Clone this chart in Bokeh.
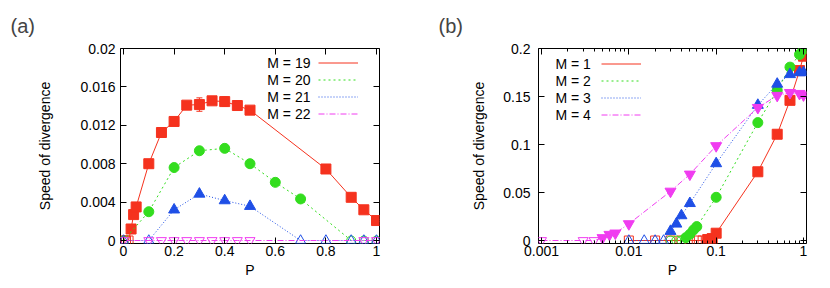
import numpy as np
from bokeh.plotting import figure
from bokeh.models import (ColumnDataSource, FixedTicker, LinearAxis, LogAxis, Legend,
                          LegendItem, Label, Whisker, TeeHead, Range1d)
from bokeh.layouts import row
from bokeh.embed import file_html
from bokeh.resources import INLINE

# ---------------- data: panel (a) ----------------
a_labels = ["M = 19", "M = 20", "M = 21", "M = 22"]
a_p19 = [0, 0.01, 0.02, 0.03, 0.04, 0.05, 0.1, 0.15, 0.2, 0.25, 0.3, 0.35, 0.4, 0.45, 0.5, 0.8, 0.9, 0.95, 1.0]
a_v19 = [0, 0, 0, 0.0012, 0.0027, 0.0035, 0.0080, 0.01125, 0.0124, 0.0141, 0.01416, 0.01455, 0.01447,
         0.01406, 0.01358, 0.00745, 0.0045, 0.0032, 0.00208]
a_e19 = [0, 0, 0, 0.0001, 0.0001, 0.0001, 0.0001, 0.0001, 0.0001, 0.0001, 0.0007, 0.0002, 0.0005,
         0.0002, 0.0002, 0.0004, 0.0001, 0.0001, 0.0001]
a_p20 = [0, 0.1, 0.2, 0.3, 0.4, 0.5, 0.6, 0.7, 0.9, 0.95, 1.0]
a_v20 = [0, 0.0030, 0.0076, 0.00935, 0.0096, 0.0080, 0.00606, 0.00433, 0, 0, 0]
a_p21 = [0, 0.1, 0.2, 0.3, 0.4, 0.5, 0.7, 0.8, 0.9, 0.95, 1.0]
a_v21 = [0, 0, 0.0032, 0.00485, 0.00416, 0.00357, 0, 0, 0, 0, 0]
a_p22 = [0, 0.1, 0.15, 0.2, 0.25, 0.3, 0.35, 0.4, 0.45, 0.5, 0.95, 1.0]
a_v22 = [0, 0, 0, 0, 0, 0, 0, 0, 0, 0, 0, 0]
a_xticks = [0, 0.2, 0.4, 0.6, 0.8, 1.0]
a_xlabels = ["0", "0.2", "0.4", "0.6", "0.8", "1"]
a_yticks = [0, 0.004, 0.008, 0.012, 0.016, 0.02]
a_ylabels = ["0", "0.004", "0.008", "0.012", "0.016", "0.02"]

# ---------------- data: panel (b) ----------------
b_labels = ["M = 1", "M = 2", "M = 3", "M = 4"]
b_p1 = [0.01, 0.02, 0.03, 0.04, 0.05, 0.06, 0.07, 0.08, 0.09, 0.1, 0.3, 0.5, 0.7, 0.9, 1.0]
b_v1 = [0, 0, 0, 0, 0, 0, 0, 0.001, 0.002, 0.0076, 0.0716, 0.1107, 0.146, 0.177, 0.192]
b_p2 = [0.03, 0.035, 0.04, 0.045, 0.05, 0.055, 0.06, 0.1, 0.3, 0.5, 0.7, 0.9, 1.0]
b_v2 = [0, 0, 0, 0.003, 0.0065, 0.011, 0.0145, 0.045, 0.1228, 0.1564, 0.1806, 0.1937, 0.199]
b_p3 = [0.01, 0.015, 0.02, 0.025, 0.03, 0.035, 0.04, 0.05, 0.1, 0.3, 0.5, 0.7, 0.9, 1.0]
b_v3 = [0, 0, 0, 0, 0.0097, 0.0173, 0.026, 0.0387, 0.0802, 0.141, 0.163, 0.173, 0.175, 0.175]
b_p4 = [0.001, 0.003, 0.004, 0.005, 0.006, 0.007, 0.01, 0.03, 0.05, 0.1, 0.3, 0.5, 0.7, 0.9, 1.0]
b_v4 = [0, 0, 0, 0.0028, 0.0062, 0.0076, 0.0173, 0.0512, 0.069, 0.0986, 0.1384, 0.151, 0.154, 0.153, 0.1515]
b_xticks = [0.001, 0.01, 0.1, 1.0]
b_xlabels = ["0.001", "0.01", "0.1", "1"]
b_yticks = [0, 0.05, 0.1, 0.15, 0.2]
b_ylabels = ["0", "0.05", "0.1", "0.15", "0.2"]

# ---------------- styles ----------------
FONT = "Liberation Sans"
FS = "14px"
COLORS = ["#f5321e", "#33dd1e", "#1f4fe6", "#f03cf0"]
DASHES = ["solid", "2 3", "1 2", "6 2 1 2"]
MARKERS = ["square", "circle", "triangle", "inverted_triangle"]
MSIZE = [10, 10, 11, 11]


def style_axes(p, xticker, xlabels, xticks, yticks, ylabels, log_x, y_label_standoff, tick_standoff):
    p.grid.visible = False
    p.outline_line_color = "black"
    p.outline_line_width = 1
    p.background_fill_color = "white"
    p.border_fill_color = "white"
    xa = p.xaxis[0]
    ya = p.yaxis[0]
    xa.ticker = xticker
    ya.ticker = FixedTicker(ticks=yticks, minor_ticks=[])
    xa.major_label_overrides = {t: l for t, l in zip(xticks, xlabels)}
    ya.major_label_overrides = {t: l for t, l in zip(yticks, ylabels)}
    for ax in (xa, ya):
        ax.axis_line_color = None
        ax.major_tick_in = 6
        ax.major_tick_out = 0
        ax.minor_tick_in = 3
        ax.minor_tick_out = 0
        ax.major_tick_line_color = "black"
        ax.minor_tick_line_color = "black"
        ax.major_label_text_font = FONT
        ax.major_label_text_font_size = FS
        ax.major_label_text_color = "black"
        ax.axis_label_text_font = FONT
        ax.axis_label_text_font_size = FS
        ax.axis_label_text_font_style = "normal"
        ax.axis_label_text_color = "black"
    xa.axis_label = "P"
    ya.axis_label = "Speed of divergence"
    xa.major_label_standoff = 2
    xa.axis_label_standoff = 3
    ya.major_label_standoff = tick_standoff
    ya.axis_label_standoff = y_label_standoff
    # mirrored ticks (no labels drawn)
    if log_x:
        top = LogAxis(ticker=xticker)
    else:
        top = LinearAxis(ticker=xticker)
    right = LinearAxis(ticker=FixedTicker(ticks=yticks, minor_ticks=[]))
    top.major_label_overrides = {t: "" for t in xticks}
    right.major_label_overrides = {t: "" for t in yticks}
    for ax in (top, right):
        ax.axis_line_color = None
        ax.major_tick_in = 6
        ax.major_tick_out = 0
        ax.minor_tick_in = 3
        ax.minor_tick_out = 0
        ax.major_tick_line_color = "black"
        ax.minor_tick_line_color = "black"
        ax.major_label_text_color = None
        ax.major_label_standoff = 0
    p.add_layout(top, "above")
    p.add_layout(right, "right")
    p.title.text_font = FONT
    p.title.text_font_size = "20px"
    p.title.text_font_style = "normal"
    p.title.align = "left"
    try:
        p.title.standoff = 24
    except Exception:
        pass


def draw_series(p, ps, vs, color, dash, marker, size):
    ps = np.asarray(ps, dtype=float)
    vs = np.asarray(vs, dtype=float)
    src = ColumnDataSource(dict(x=ps, y=vs))
    line = p.line("x", "y", source=src, line_color=color, line_width=1, line_dash=dash)
    filled = vs > 0
    if filled.any():
        p.scatter(ps[filled], vs[filled], marker=marker, size=size,
                  fill_color=color, line_color=color, line_width=1)
    if (~filled).any():
        p.scatter(ps[~filled], vs[~filled], marker=marker, size=size - 1,
                  fill_color=None, line_color=color, line_width=1)
    return line


def add_key(p, lines, labels, glyph_x, top_y, text_x, text_align):
    legend = Legend(items=[LegendItem(label=" ", renderers=[r]) for r in lines],
                    location=(glyph_x, top_y - 17 * len(lines)), orientation="vertical",
                    glyph_width=40, glyph_height=17, label_height=17, label_width=2,
                    label_standoff=0, spacing=0, padding=0, margin=0,
                    border_line_color=None, background_fill_alpha=0,
                    label_text_color=None)
    p.add_layout(legend)
    for i, lab in enumerate(labels):
        p.add_layout(Label(x=text_x, y=top_y - 8.5 - 17 * i, x_units="screen", y_units="screen",
                           text=lab, text_font=FONT, text_font_size=FS, text_align=text_align,
                           text_baseline="middle", text_color="black"))


# ---------------- panel (a) ----------------
PAD_PX = 3
ax_pad = PAD_PX / 253.0
ay_pad = 0.02 * PAD_PX / 193.0
pa = figure(width=418, height=288, output_backend="svg", toolbar_location=None,
            title="(a)",
            x_range=Range1d(-ax_pad, 1 + ax_pad), y_range=Range1d(-ay_pad, 0.02),
            min_border_left=120, min_border_right=39, min_border_top=47, min_border_bottom=45)
style_axes(pa, FixedTicker(ticks=a_xticks, minor_ticks=[]), a_xlabels, a_xticks,
           a_yticks, a_ylabels, False, 24, 5)
pa.title.offset = -110

a_series = [(a_p19, a_v19), (a_p20, a_v20), (a_p21, a_v21), (a_p22, a_v22)]
a_lines = []
for i, (ps, vs) in enumerate(a_series):
    ln = draw_series(pa, ps, vs, COLORS[i], DASHES[i], MARKERS[i], MSIZE[i])
    a_lines.append(ln)
    if i == 0:
        e = np.asarray(a_e19)
        v = np.asarray(a_v19)
        esrc = ColumnDataSource(dict(x=a_p19, lo=v - e, hi=v + e))
        pa.add_layout(Whisker(source=esrc, base="x", upper="hi", lower="lo",
                              line_color=COLORS[0], line_width=1,
                              upper_head=TeeHead(size=6, line_color=COLORS[0]),
                              lower_head=TeeHead(size=6, line_color=COLORS[0])))

add_key(pa, a_lines, a_labels, glyph_x=198, top_y=243 - 54, text_x=190, text_align="right")

# ---------------- panel (b) ----------------
bx_fac = 10 ** (PAD_PX / 87.3)
by_pad = 0.2 * PAD_PX / 193.0
minor_b = [m * 10.0 ** e for e in (-3, -2, -1) for m in range(2, 10)]
pb = figure(width=412, height=288, output_backend="svg", toolbar_location=None,
            x_axis_type="log", title="(b)",
            x_range=Range1d(0.001 / bx_fac, 1.0 * bx_fac), y_range=Range1d(-by_pad, 0.2),
            min_border_left=120, min_border_right=24, min_border_top=47, min_border_bottom=45)
style_axes(pb, FixedTicker(ticks=b_xticks, minor_ticks=minor_b), b_xlabels, b_xticks,
           b_yticks, b_ylabels, True, 13, 8)
pb.title.offset = -100

b_series = [(b_p1, b_v1), (b_p2, b_v2), (b_p3, b_v3), (b_p4, b_v4)]
b_lines = []
for i, (ps, vs) in enumerate(b_series):
    b_lines.append(draw_series(pb, ps, vs, COLORS[i], DASHES[i], MARKERS[i], MSIZE[i]))

add_key(pb, b_lines, b_labels, glyph_x=63, top_y=243 - 55, text_x=17, text_align="left")

layout = row(pa, pb)
open("out.html", "w").write(file_html(layout, INLINE))
